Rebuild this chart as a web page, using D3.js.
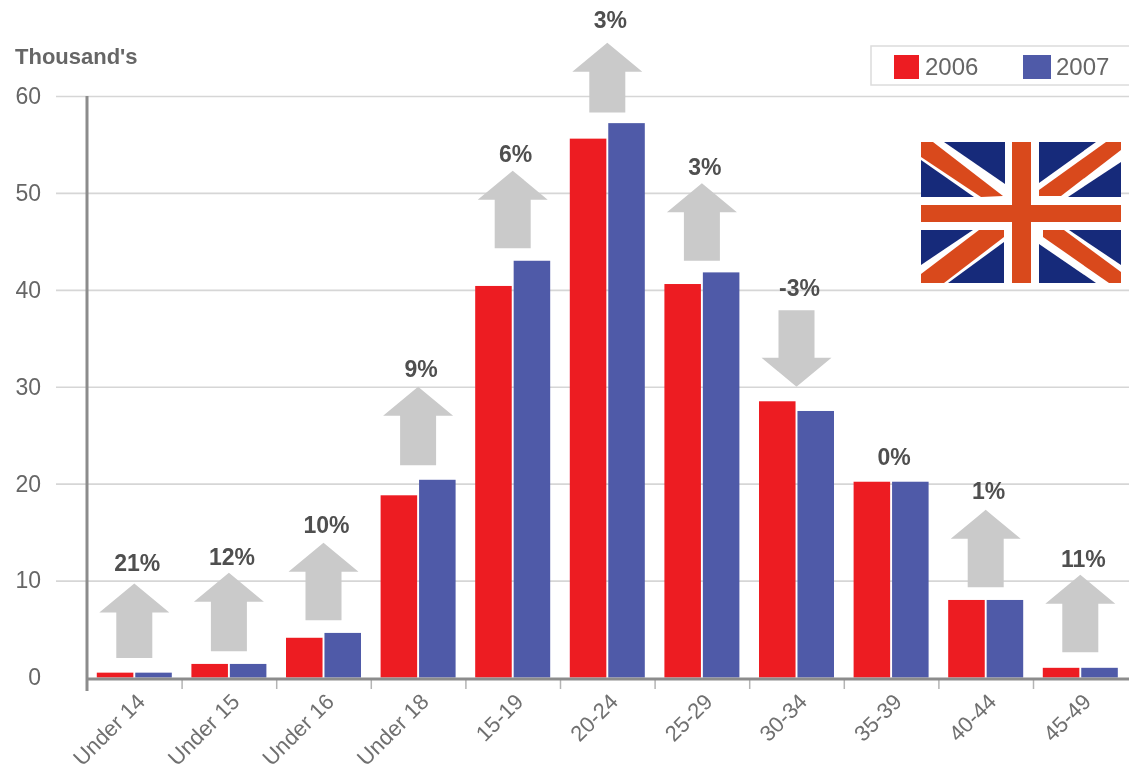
<!DOCTYPE html>
<html>
<head>
<meta charset="utf-8">
<script src="https://cdn.jsdelivr.net/npm/d3@7"></script>
<style>
  html, body { margin: 0; padding: 0; background: #fff; overflow: hidden; }
  text { font-family: "Liberation Sans", Arial, sans-serif; }
</style>
</head>
<body>
<div id="chart"></div>
<script>
var categories = ["Under 14", "Under 15", "Under 16", "Under 18", "15-19", "20-24", "25-29", "30-34", "35-39", "40-44", "45-49"];
var years = ["2006", "2007"];
var values2006 = [0.5, 1.4, 4.1, 18.8, 40.4, 55.6, 40.6, 28.5, 20.2, 8, 1];
var values2007 = [0.5, 1.4, 4.6, 20.4, 43, 57.2, 41.8, 27.5, 20.2, 8, 1];
var yTicks = [0, 10, 20, 30, 40, 50, 60];

// percent change label, and where each grey arrow starts and ends (axis units). null = no arrow
var changeLabels = ["21%", "12%", "10%", "9%", "6%", "3%", "3%", "-3%", "0%", "1%", "11%"];
var labelLevel = [11.8, 12.4, 15.7, 31.8, 54, 67.8, 52.7, 40.2, 22.8, 19.3, 12.2];
var arrowFrom = [2, 2.7, 5.9, 21.9, 44.3, 58.3, 43, 37.9, null, 9.3, 2.6];
var arrowTo = [9.7, 10.8, 13.9, 30, 52.3, 65.5, 51, 30, null, 17.3, 10.6];

var width = 1129,
  height = 772;

var colors = { 2006: "#ed1c24", 2007: "#4f5aa8" };

var svg = d3
  .select("#chart")
  .append("svg")
  .attr("width", width)
  .attr("height", height)
  .style("display", "block");

// the reference is a soft, slightly out of focus image
var blur = svg.append("defs").append("filter").attr("id", "soft");
blur.append("feGaussianBlur").attr("stdDeviation", 0.7);

var root = svg.append("g").attr("filter", "url(#soft)");

var x = d3.scaleBand().domain(categories).range([87, 1127.6]);
var xBar = d3.scaleBand().domain(years).range([9.8, 84.8]).paddingInner(0.05);
var y = d3.scaleLinear().domain([0, 60]).range([677.5, 96]);

// gridlines
var grid = root
  .append("g")
  .attr("transform", "translate(56,0)")
  .call(d3.axisRight(y).tickValues(yTicks.slice(1)).tickSize(width - 56).tickFormat(""));
grid.select(".domain").remove();
grid.selectAll("line").attr("stroke", "#d6d6d6").attr("stroke-width", 1.6);

// y tick labels
var yAxis = root
  .append("g")
  .attr("transform", "translate(56,0)")
  .call(d3.axisLeft(y).tickValues(yTicks).tickSize(0).tickPadding(15));
yAxis.select(".domain").remove();
yAxis.selectAll("text").style("font-size", "23px").attr("fill", "#666");

root
  .append("text")
  .attr("x", 15)
  .attr("y", 64)
  .style("font-size", "22px")
  .style("font-weight", "bold")
  .attr("fill", "#666")
  .text("Thousand's");

// arrows behind the bars
var arrowGen = function (i) {
  var cx = x(categories[i]) + x.bandwidth() / 2;
  var from = y(arrowFrom[i]),
    to = y(arrowTo[i]);
  var dir = to < from ? 1 : -1;
  var neck = to + dir * 29;
  return [
    [cx - 18, from],
    [cx - 18, neck],
    [cx - 35, neck],
    [cx, to],
    [cx + 35, neck],
    [cx + 18, neck],
    [cx + 18, from],
  ];
};

root
  .append("g")
  .selectAll("polygon")
  .data(d3.range(categories.length).filter((i) => arrowFrom[i] !== null))
  .enter()
  .append("polygon")
  .attr("points", (i) => arrowGen(i).join(" "))
  .attr("fill", "#cacaca");

// bars
var groups = root
  .append("g")
  .selectAll("g")
  .data(categories)
  .enter()
  .append("g")
  .attr("transform", (d) => "translate(" + x(d) + ",0)");

groups
  .append("rect")
  .attr("x", xBar("2006"))
  .attr("y", (d, i) => y(values2006[i]))
  .attr("width", xBar.bandwidth())
  .attr("height", (d, i) => y(0) - y(values2006[i]))
  .attr("fill", colors[2006]);

groups
  .append("rect")
  .attr("x", xBar("2007"))
  .attr("y", (d, i) => y(values2007[i]))
  .attr("width", xBar.bandwidth())
  .attr("height", (d, i) => y(0) - y(values2007[i]))
  .attr("fill", colors[2007]);

// percent labels
root
  .append("g")
  .selectAll("text")
  .data(changeLabels)
  .enter()
  .append("text")
  .attr("x", (d, i) => x(categories[i]) + x.bandwidth() / 2 + 3)
  .attr("y", (d, i) => y(labelLevel[i]))
  .attr("dy", "0.35em")
  .attr("text-anchor", "middle")
  .style("font-size", "23px")
  .style("font-weight", "bold")
  .attr("fill", "#505050")
  .text((d) => d);

// x axis: ticks sit between the categories, labels in the middle of them
var edges = d3.scaleLinear().domain([0, categories.length]).range([87, 1127.6]);
var xTicks = root
  .append("g")
  .attr("transform", "translate(0,679)")
  .call(d3.axisBottom(edges).tickValues(d3.range(1, categories.length)).tickSize(10).tickFormat(""));
xTicks.select(".domain").remove();
xTicks.selectAll("line").attr("stroke", "#b4b4b4").attr("stroke-width", 1.5);

var xAxis = root
  .append("g")
  .attr("transform", "translate(0,679)")
  .call(d3.axisBottom(x).tickSize(0));
xAxis.select(".domain").remove();
xAxis
  .selectAll("text")
  .style("font-size", "22px")
  .attr("fill", "#707070")
  .attr("text-anchor", "end")
  .attr("dy", 0)
  .attr("y", 0)
  .attr("transform", "translate(12,24) rotate(-45)");

root
  .append("line")
  .attr("x1", 87)
  .attr("x2", width)
  .attr("y1", 679)
  .attr("y2", 679)
  .attr("stroke", "#8c8c8c")
  .attr("stroke-width", 3);
root
  .append("line")
  .attr("x1", 87)
  .attr("x2", 87)
  .attr("y1", 96)
  .attr("y2", 691)
  .attr("stroke", "#8c8c8c")
  .attr("stroke-width", 3);

// legend
var legend = root.append("g");
legend
  .append("rect")
  .attr("x", 871)
  .attr("y", 46)
  .attr("width", 262)
  .attr("height", 39)
  .attr("fill", "#fff")
  .attr("stroke", "#dcdcdc")
  .attr("stroke-width", 1.5);
var legendX = d3.scaleOrdinal().domain(years).range([894, 1023]);
var legendItems = legend
  .selectAll("g")
  .data(years)
  .enter()
  .append("g")
  .attr("transform", (d) => "translate(" + legendX(d) + ",55)");
legendItems
  .append("rect")
  .attr("width", (d) => (d === "2006" ? 25 : 28))
  .attr("height", 24)
  .attr("fill", (d) => colors[d]);
legendItems
  .append("text")
  .attr("x", (d) => (d === "2006" ? 31 : 33))
  .attr("y", 20)
  .style("font-size", "24px")
  .attr("fill", "#666")
  .text((d) => d);

// union flag
var flag = root.append("g").attr("transform", "translate(921,142)");
var fw = 200,
  fh = 141;
flag.append("rect").attr("width", fw).attr("height", fh).attr("fill", "#fff");
var navy = "#16297a",
  flagRed = "#d9481c";
[
  [[23, 0], [84, 0], [84, 42]],
  [[0, 18], [53, 55], [0, 55]],
  [[118, 0], [175, 0], [118, 41]],
  [[200, 20], [200, 55], [147, 55]],
  [[0, 88], [52, 88], [0, 123]],
  [[83, 100], [83, 141], [27, 141]],
  [[118, 102], [175, 141], [118, 141]],
  [[148, 88], [200, 88], [200, 123]],
].forEach(function (p) {
  flag.append("polygon").attr("points", p.join(" ")).attr("fill", navy);
});
[
  [[0, 0], [12, 0], [82, 54], [60, 55], [0, 15]],
  [[185, 0], [200, 0], [200, 8], [140, 54], [118, 54], [118, 48]],
  [[58, 88], [83, 88], [83, 95], [23, 141], [0, 141], [0, 132]],
  [[122, 88], [143, 88], [200, 130], [200, 141], [188, 141], [122, 95]],
].forEach(function (p) {
  flag.append("polygon").attr("points", p.join(" ")).attr("fill", flagRed);
});
flag.append("rect").attr("x", 0).attr("y", 63).attr("width", fw).attr("height", 17).attr("fill", flagRed);
flag.append("rect").attr("x", 91).attr("y", 0).attr("width", 19).attr("height", fh).attr("fill", flagRed);
</script>
</body>
</html>
